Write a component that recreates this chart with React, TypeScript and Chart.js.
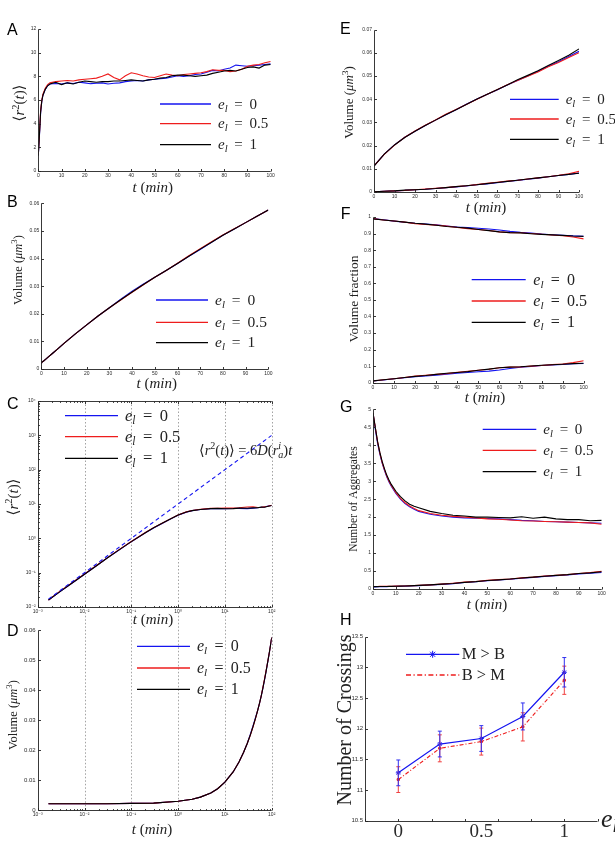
import React, { useEffect, useRef } from 'react';
import { Chart, registerables } from 'chart.js';

Chart.register(...registerables);

const SERIF = "'Liberation Serif', 'DejaVu Serif', serif";
const SANS = "'Liberation Sans', 'DejaVu Sans', Arial, sans-serif";
const BLUE = '#1414f0';
const RED = '#ee1c1c';
const BLACK = '#000000';

// ---------- data ----------
const seriesLabels = ['0', '0.5', '1'];

// A: mean squared displacement vs time (linear time axis)
const tA = [0, 0.5, 1, 1.5, 2, 3, 4, 5, 7.5, 10, 12.5, 15, 17.5, 20, 22.5, 25, 27.5, 30, 32.5, 35, 37.5, 40, 42.5, 45, 47.5, 50, 52.5, 55, 57.5, 60, 62.5, 65, 67.5, 70, 72.5, 75, 77.5, 80, 82.5, 85, 87.5, 90, 92.5, 95, 97.5, 100];
const r2A_e0 = [1.3, 3.0, 4.9, 5.9, 6.4, 6.9, 7.2, 7.35, 7.4, 7.35, 7.45, 7.4, 7.5, 7.45, 7.38, 7.42, 7.45, 7.35, 7.42, 7.45, 7.55, 7.6, 7.65, 7.6, 7.7, 7.75, 7.8, 7.85, 7.95, 8.05, 8.0, 8.05, 8.15, 8.2, 8.35, 8.5, 8.45, 8.6, 8.7, 8.95, 8.9, 8.85, 8.9, 8.95, 9.0, 9.05];
const r2A_e05 = [1.4, 3.2, 5.1, 6.0, 6.5, 7.0, 7.3, 7.45, 7.55, 7.6, 7.65, 7.6, 7.7, 7.75, 7.8, 7.85, 8.0, 8.2, 7.9, 7.7, 8.05, 8.3, 8.2, 8.05, 7.95, 7.9, 8.05, 8.2, 8.1, 8.05, 8.15, 8.2, 8.25, 8.3, 8.4, 8.55, 8.5, 8.5, 8.4, 8.45, 8.6, 8.85, 8.95, 9.0, 9.15, 9.25];
const r2A_e1 = [1.3, 3.1, 5.0, 5.9, 6.4, 6.9, 7.2, 7.35, 7.5, 7.3, 7.45, 7.35, 7.5, 7.6, 7.55, 7.5, 7.55, 7.55, 7.6, 7.6, 7.65, 7.7, 7.65, 7.6, 7.7, 7.75, 7.85, 7.9, 8.05, 8.1, 8.1, 8.05, 8.0, 8.05, 8.1, 8.25, 8.35, 8.45, 8.5, 8.45, 8.6, 8.75, 8.8, 8.7, 8.95, 9.0];

// B and D: aggregate volume vs time
const tV = [0.0017, 0.005, 0.01, 0.03, 0.1, 0.3, 1, 2, 3, 5, 7, 10, 15, 20, 25, 30, 35, 40, 45, 50, 55, 60, 65, 70, 75, 80, 85, 90, 95, 100];
const volV_e0 = [0.0021, 0.0021, 0.0021, 0.0021, 0.0022, 0.0023, 0.0029, 0.0036, 0.0043, 0.0057, 0.0071, 0.0093, 0.0127, 0.016, 0.0192, 0.0222, 0.0253, 0.0282, 0.0308, 0.0332, 0.0357, 0.0382, 0.0408, 0.0433, 0.0459, 0.0484, 0.0507, 0.053, 0.0553, 0.0576];
const volV_e05 = [0.0021, 0.0021, 0.0021, 0.0021, 0.0022, 0.0023, 0.0029, 0.0036, 0.0043, 0.0057, 0.0071, 0.0093, 0.0127, 0.016, 0.0192, 0.0222, 0.025, 0.0278, 0.0305, 0.0332, 0.0357, 0.0383, 0.041, 0.0436, 0.0461, 0.0485, 0.0508, 0.053, 0.0553, 0.0576];
const volV_e1 = [0.0021, 0.0021, 0.0021, 0.0021, 0.0022, 0.0023, 0.0029, 0.0036, 0.0043, 0.0057, 0.0071, 0.0093, 0.0127, 0.016, 0.0192, 0.0222, 0.0251, 0.0279, 0.0306, 0.0332, 0.0357, 0.0382, 0.0408, 0.0434, 0.0459, 0.0484, 0.0507, 0.053, 0.0553, 0.0576];

// C: mean squared displacement vs time (log-log)
const tC = [0.0017, 0.003, 0.005, 0.01, 0.02, 0.03, 0.05, 0.1, 0.2, 0.3, 0.5, 0.7, 1, 1.5, 2, 3, 5, 7, 10, 15, 20, 30, 40, 50, 60, 70, 80, 90, 100];
const r2C_e0 = [0.016, 0.028, 0.046, 0.09, 0.175, 0.26, 0.42, 0.8, 1.45, 2.0, 2.9, 3.7, 4.7, 5.8, 6.4, 6.9, 7.3, 7.4, 7.35, 7.4, 7.45, 7.35, 7.6, 7.75, 8.05, 8.2, 8.6, 8.85, 9.05];
const r2C_e05 = [0.016, 0.029, 0.047, 0.091, 0.178, 0.265, 0.43, 0.81, 1.47, 2.05, 2.95, 3.75, 4.8, 5.9, 6.5, 7.0, 7.45, 7.55, 7.6, 7.6, 7.75, 8.2, 8.3, 7.9, 8.05, 8.3, 8.5, 8.85, 9.25];
const r2C_e1 = [0.016, 0.028, 0.046, 0.09, 0.176, 0.262, 0.425, 0.8, 1.46, 2.02, 2.92, 3.72, 4.75, 5.85, 6.4, 6.9, 7.35, 7.45, 7.3, 7.35, 7.6, 7.55, 7.7, 7.75, 8.1, 8.05, 8.45, 8.75, 9.0];
const tTheory = [0.0017, 100];
const r2Theory = [0.017, 1000];

// E, F: 5-minute samples
const t5 = [0, 5, 10, 15, 20, 25, 30, 35, 40, 45, 50, 55, 60, 65, 70, 75, 80, 85, 90, 95, 100];
const volHi_e0 = [0.0113, 0.0163, 0.0203, 0.0236, 0.0262, 0.0287, 0.031, 0.0333, 0.0355, 0.0378, 0.04, 0.042, 0.044, 0.0461, 0.0481, 0.05, 0.0521, 0.0542, 0.0562, 0.0584, 0.0607];
const volHi_e05 = [0.0113, 0.0162, 0.0202, 0.0236, 0.0263, 0.0288, 0.0311, 0.0335, 0.0356, 0.0377, 0.0399, 0.042, 0.0441, 0.0463, 0.0481, 0.0499, 0.0518, 0.054, 0.0559, 0.058, 0.0601];
const volHi_e1 = [0.0112, 0.0163, 0.0203, 0.0235, 0.0262, 0.0287, 0.031, 0.0333, 0.0355, 0.0377, 0.04, 0.0421, 0.0441, 0.0462, 0.0484, 0.0503, 0.0523, 0.0546, 0.0567, 0.059, 0.0617];
const volLo_e0 = [0.0001, 0.0003, 0.0005, 0.0007, 0.001, 0.0012, 0.0015, 0.0018, 0.0022, 0.0026, 0.0031, 0.0035, 0.004, 0.0045, 0.005, 0.0055, 0.006, 0.0066, 0.0071, 0.0076, 0.0082];
const volLo_e05 = [0.0001, 0.0003, 0.0005, 0.0007, 0.001, 0.0013, 0.0016, 0.0019, 0.0023, 0.0027, 0.0032, 0.0037, 0.0042, 0.0047, 0.0051, 0.0056, 0.0061, 0.0066, 0.0072, 0.0079, 0.0089];
const volLo_e1 = [0.0001, 0.0003, 0.0005, 0.0008, 0.001, 0.0012, 0.0015, 0.0019, 0.0023, 0.0027, 0.0031, 0.0036, 0.0041, 0.0046, 0.0051, 0.0056, 0.0061, 0.0066, 0.0071, 0.0076, 0.0081];

const fracHi_e0 = [0.99, 0.983, 0.975, 0.968, 0.962, 0.958, 0.953, 0.946, 0.94, 0.937, 0.932, 0.928, 0.922, 0.913, 0.907, 0.903, 0.897, 0.893, 0.89, 0.886, 0.884];
const fracHi_e05 = [0.99, 0.982, 0.976, 0.969, 0.96, 0.955, 0.951, 0.945, 0.937, 0.93, 0.925, 0.919, 0.91, 0.906, 0.905, 0.9, 0.896, 0.891, 0.887, 0.879, 0.868];
const fracHi_e1 = [0.989, 0.982, 0.976, 0.969, 0.962, 0.957, 0.95, 0.943, 0.938, 0.933, 0.925, 0.918, 0.91, 0.906, 0.904, 0.899, 0.895, 0.892, 0.889, 0.885, 0.883];
const fracLo_e0 = [0.01, 0.016, 0.024, 0.03, 0.036, 0.04, 0.046, 0.052, 0.058, 0.062, 0.066, 0.07, 0.077, 0.086, 0.093, 0.098, 0.104, 0.107, 0.11, 0.114, 0.116];
const fracLo_e05 = [0.01, 0.018, 0.024, 0.031, 0.04, 0.045, 0.05, 0.055, 0.063, 0.069, 0.075, 0.081, 0.09, 0.094, 0.095, 0.1, 0.104, 0.109, 0.113, 0.121, 0.132];
const fracLo_e1 = [0.011, 0.018, 0.024, 0.031, 0.038, 0.043, 0.05, 0.057, 0.062, 0.067, 0.075, 0.082, 0.09, 0.094, 0.096, 0.101, 0.105, 0.108, 0.111, 0.115, 0.117];

// G: number of aggregates
const tG = [0, 1, 2, 3, 4, 5, 6, 7, 8, 10, 12, 14, 16, 18, 20, 25, 30, 35, 40, 45, 50, 55, 60, 65, 70, 75, 80, 85, 90, 95, 100];
const aggHi_e0 = [4.9, 4.45, 4.05, 3.75, 3.5, 3.3, 3.12, 2.98, 2.86, 2.66, 2.5, 2.38, 2.29, 2.22, 2.16, 2.08, 2.03, 2.0, 1.98, 1.97, 1.96, 1.95, 1.93, 1.91, 1.9, 1.88, 1.87, 1.86, 1.85, 1.84, 1.83];
const aggHi_e05 = [4.9, 4.5, 4.1, 3.78, 3.52, 3.32, 3.14, 3.0, 2.88, 2.68, 2.52, 2.4, 2.31, 2.24, 2.18, 2.1, 2.05, 2.02, 2.0, 1.98, 1.95, 1.94, 1.92, 1.9, 1.89, 1.88, 1.87, 1.86, 1.85, 1.84, 1.8];
const aggHi_e1 = [4.9, 4.5, 4.1, 3.8, 3.55, 3.35, 3.17, 3.03, 2.91, 2.72, 2.57, 2.45, 2.36, 2.3, 2.26, 2.16, 2.1, 2.05, 2.03, 2.0, 2.0, 1.99, 1.98, 2.01, 1.97, 2.0, 1.95, 1.93, 1.93, 1.9, 1.91];
const aggLo_e0 = [0.06, 0.06, 0.062, 0.064, 0.065, 0.066, 0.067, 0.068, 0.07, 0.072, 0.075, 0.08, 0.085, 0.09, 0.095, 0.11, 0.13, 0.15, 0.18, 0.2, 0.23, 0.25, 0.27, 0.3, 0.32, 0.35, 0.37, 0.39, 0.42, 0.44, 0.46];
const aggLo_e05 = [0.07, 0.07, 0.07, 0.072, 0.073, 0.074, 0.075, 0.076, 0.077, 0.08, 0.082, 0.085, 0.09, 0.095, 0.1, 0.115, 0.135, 0.16, 0.19, 0.21, 0.24, 0.26, 0.28, 0.31, 0.33, 0.36, 0.38, 0.4, 0.43, 0.46, 0.49];
const aggLo_e1 = [0.065, 0.065, 0.066, 0.068, 0.07, 0.07, 0.071, 0.072, 0.074, 0.077, 0.08, 0.083, 0.088, 0.093, 0.1, 0.115, 0.135, 0.155, 0.185, 0.205, 0.235, 0.255, 0.28, 0.305, 0.33, 0.355, 0.38, 0.4, 0.43, 0.45, 0.48];

// H: crossings vs e_l
const eL = [0, 0.25, 0.5, 0.75, 1];
const crossMB = [11.28, 11.75, 11.84, 12.2, 12.92];
const crossMB_err = [0.21, 0.21, 0.21, 0.22, 0.24];
const crossBM = [11.17, 11.68, 11.79, 12.03, 12.79];
const crossBM_err = [0.21, 0.22, 0.22, 0.23, 0.23];

// tick values
const ticks0to100 = [0, 10, 20, 30, 40, 50, 60, 70, 80, 90, 100];
const decadesT = [0.001, 0.01, 0.1, 1, 10, 100];
const decadesR2 = [0.01, 0.1, 1, 10, 100, 1000, 10000];
const ticksVol06 = [0, 0.01, 0.02, 0.03, 0.04, 0.05, 0.06];
const ticksVol07 = [0, 0.01, 0.02, 0.03, 0.04, 0.05, 0.06, 0.07];
const ticksFrac = [0, 0.1, 0.2, 0.3, 0.4, 0.5, 0.6, 0.7, 0.8, 0.9, 1];
const ticksAgg = [0, 0.5, 1, 1.5, 2, 2.5, 3, 3.5, 4, 4.5, 5];
const ticksCross = [10.5, 11, 11.5, 12, 12.5, 13, 13.5];
const ticksEl = [0, 0.5, 1];
const marksEl = [-0.2, 0, 0.2, 0.4, 0.6, 0.8, 1, 1.2];

// ---------- helpers ----------
const SUP = '⁻⁰¹²³⁴⁵⁶⁷⁸⁹';
const toSup = (n: number) => String(n).split('').map((c) => SUP['-0123456789'.indexOf(c)]).join('');
const fmt = (v: number) => String(parseFloat(v.toFixed(4)));
const fmtPow = (v: number) => '10' + toSup(Math.round(Math.log10(v)));
const logMinor = (lo: number, hi: number) => {
  const out: number[] = [];
  for (let e = lo; e < hi; e++) for (let k = 2; k <= 9; k++) out.push(k * Math.pow(10, e));
  return out;
};

type Run = { t: string; it?: boolean; sub?: boolean; sup?: boolean; stack?: boolean };

function drawRuns(ctx: CanvasRenderingContext2D, runs: Run[], x: number, y: number, size: number, align = 'left', color = '#111') {
  const fontOf = (r: Run) => `${r.it ? 'italic ' : ''}${r.sub || r.sup ? (size * 0.7).toFixed(1) : size}px ${SERIF}`;
  const widths = runs.map((r) => {
    ctx.font = fontOf(r);
    return ctx.measureText(r.t).width;
  });
  const pos: number[] = [];
  let cx = 0;
  let prevStart = 0;
  let prevW = 0;
  runs.forEach((r, i) => {
    const w = widths[i];
    if (r.stack) {
      pos.push(prevStart);
      prevW = Math.max(prevW, w);
      cx = prevStart + prevW;
    } else {
      pos.push(cx);
      prevStart = cx;
      prevW = w;
      cx += w;
    }
  });
  const x0 = align === 'center' ? x - cx / 2 : x;
  ctx.fillStyle = color;
  ctx.textAlign = 'left';
  ctx.textBaseline = 'alphabetic';
  runs.forEach((r, i) => {
    ctx.font = fontOf(r);
    const dy = r.sub ? size * 0.2 : r.sup ? -size * 0.38 : 0;
    ctx.fillText(r.t, x0 + pos[i], y + dy);
  });
}

const runsTmin: Run[] = [{ t: 't', it: true }, { t: ' (' }, { t: 'min', it: true }, { t: ')' }];
const runsR2: Run[] = [{ t: '⟨' }, { t: 'r', it: true }, { t: '2', sup: true }, { t: '(' }, { t: 't', it: true }, { t: ')' }, { t: '⟩' }];
const runsVol: Run[] = [{ t: 'Volume (' }, { t: 'μm', it: true }, { t: '3', sup: true }, { t: ')' }];
const runsTheory: Run[] = [
  { t: '⟨' }, { t: 'r', it: true }, { t: '2', sup: true }, { t: '(' }, { t: 't', it: true }, { t: ')' }, { t: '⟩ = 6' },
  { t: 'D', it: true }, { t: '(' }, { t: 'r', it: true }, { t: 'a', it: true, sub: true }, { t: 'i', it: true, sup: true, stack: true },
  { t: ')' }, { t: 't', it: true },
];
const elRows = seriesLabels.map((lab, i) => ({
  color: [BLUE, RED, BLACK][i],
  runs: [{ t: 'e', it: true }, { t: 'l', it: true, sub: true }, { t: ' \u2009=\u2009 ' + lab }] as Run[],
}));

const line = (xs: number[], ys: number[], color: string, order: number, extra: any = {}) => ({
  data: xs.map((x, i) => ({ x, y: ys[i] })),
  showLine: true,
  borderColor: color,
  backgroundColor: color,
  borderWidth: 1.1,
  pointRadius: 0,
  pointHoverRadius: 0,
  tension: 0,
  fill: false,
  order,
  ...extra,
});

type Axis = {
  type: 'linear' | 'logarithmic';
  min: number;
  max: number;
  ticks: number[];
  font: number;
  family?: string;
  labels?: (v: number) => string;
  marks?: number[];
  minor?: number[];
  pad?: number;
};

type Spec = {
  box: { left: number; top: number; w: number; h: number };
  area: { x0: number; y0: number; x1: number; y1: number };
  x: Axis;
  y: Axis;
  datasets: any[];
  texts: { runs: Run[]; x: number; y: number; size: number; rot?: boolean; base?: boolean }[];
  legend?: { x0: number; x1: number; textX: number; ys: number[]; size: number; rows: { color: string; runs: Run[]; dash?: number[]; star?: boolean }[] };
  letter: { ch: string; x: number; y: number };
  vGrid?: number[];
  gridTop?: number;
  boxTop?: boolean;
  errors?: { xs: number[]; ys: number[]; err: number[]; color: string }[];
};

function axisOptions(a: Axis, horizontal: boolean, size: number) {
  return {
    type: a.type,
    min: a.min,
    max: a.max,
    afterBuildTicks: (s: any) => {
      s.ticks = a.ticks.map((v) => ({ value: v }));
    },
    afterFit: (s: any) => {
      if (horizontal) s.height = size;
      else s.width = size;
    },
    grid: { display: false, drawTicks: false },
    border: { display: false },
    ticks: {
      autoSkip: false,
      maxRotation: 0,
      minRotation: 0,
      padding: a.pad ?? 2,
      color: '#2a2a2a',
      font: { family: a.family ?? SANS, size: a.font },
      callback: (v: any) => (a.labels ? a.labels(Number(v)) : fmt(Number(v))),
    },
  };
}

function framePlugin(spec: Spec) {
  return {
    id: 'frame',
    beforeDatasetsDraw(chart: any) {
      const { ctx, chartArea: a, scales } = chart;
      if (!spec.vGrid) return;
      ctx.save();
      ctx.strokeStyle = '#8c8c8c';
      ctx.lineWidth = 0.8;
      ctx.setLineDash([1.5, 2]);
      for (const v of spec.vGrid) {
        const px = Math.round(scales.x.getPixelForValue(v)) + 0.5;
        ctx.beginPath();
        ctx.moveTo(px, a.top - (spec.gridTop ?? 0));
        ctx.lineTo(px, a.bottom);
        ctx.stroke();
      }
      ctx.restore();
    },
    afterDatasetsDraw(chart: any) {
      const { ctx, chartArea: a, scales } = chart;
      const L = Math.round(a.left) + 0.5;
      const B = Math.round(a.bottom) + 0.5;
      const T = Math.round(a.top) + 0.5;
      ctx.save();
      ctx.strokeStyle = '#222';
      ctx.lineWidth = 0.9;
      ctx.setLineDash([]);
      ctx.beginPath();
      ctx.moveTo(L, T);
      ctx.lineTo(L, B);
      ctx.lineTo(a.right, B);
      if (spec.boxTop) {
        ctx.moveTo(L, T);
        ctx.lineTo(a.right, T);
      }
      const xMarks = spec.x.marks ?? spec.x.ticks;
      for (const v of xMarks) {
        const px = Math.round(scales.x.getPixelForValue(v)) + 0.5;
        ctx.moveTo(px, B);
        ctx.lineTo(px, B - 2.5);
        if (spec.boxTop) {
          ctx.moveTo(px, T);
          ctx.lineTo(px, T + 2.5);
        }
      }
      for (const v of spec.x.minor ?? []) {
        const px = Math.round(scales.x.getPixelForValue(v)) + 0.5;
        ctx.moveTo(px, B);
        ctx.lineTo(px, B - 1.4);
        if (spec.boxTop) {
          ctx.moveTo(px, T);
          ctx.lineTo(px, T + 1.4);
        }
      }
      const yMarks = spec.y.marks ?? spec.y.ticks;
      for (const v of yMarks) {
        const py = Math.round(scales.y.getPixelForValue(v)) + 0.5;
        ctx.moveTo(L, py);
        ctx.lineTo(L + 2.5, py);
      }
      for (const v of spec.y.minor ?? []) {
        const py = Math.round(scales.y.getPixelForValue(v)) + 0.5;
        ctx.moveTo(L, py);
        ctx.lineTo(L + 1.4, py);
      }
      ctx.stroke();

      // error bars
      for (const eb of spec.errors ?? []) {
        ctx.strokeStyle = eb.color;
        ctx.lineWidth = 1;
        ctx.beginPath();
        eb.xs.forEach((xv, i) => {
          const px = scales.x.getPixelForValue(xv);
          const top = scales.y.getPixelForValue(eb.ys[i] + eb.err[i]);
          const bot = scales.y.getPixelForValue(eb.ys[i] - eb.err[i]);
          ctx.moveTo(px, top);
          ctx.lineTo(px, bot);
          ctx.moveTo(px - 2, top);
          ctx.lineTo(px + 2, top);
          ctx.moveTo(px - 2, bot);
          ctx.lineTo(px + 2, bot);
        });
        ctx.stroke();
      }
      ctx.restore();
    },
  };
}

function drawStar(ctx: CanvasRenderingContext2D, x: number, y: number, r: number) {
  ctx.beginPath();
  ctx.moveTo(x - r, y);
  ctx.lineTo(x + r, y);
  ctx.moveTo(x, y - r);
  ctx.lineTo(x, y + r);
  const d = r * 0.72;
  ctx.moveTo(x - d, y - d);
  ctx.lineTo(x + d, y + d);
  ctx.moveTo(x - d, y + d);
  ctx.lineTo(x + d, y - d);
  ctx.stroke();
}

function overlayPlugin(spec: Spec) {
  return {
    id: 'overlay',
    afterDraw(chart: any) {
      const ctx: CanvasRenderingContext2D = chart.ctx;
      const ox = spec.box.left;
      const oy = spec.box.top;
      ctx.save();
      // axis titles and annotations
      for (const t of spec.texts) {
        if (t.rot) {
          ctx.save();
          ctx.translate(t.x - ox, t.y - oy);
          ctx.rotate(-Math.PI / 2);
          drawRuns(ctx, t.runs, 0, t.size * 0.33, t.size, 'center', '#222');
          ctx.restore();
        } else if (t.base) {
          drawRuns(ctx, t.runs, t.x - ox, t.y - oy, t.size, 'left', '#222');
        } else {
          drawRuns(ctx, t.runs, t.x - ox, t.y - oy + t.size * 0.33, t.size, 'center', '#222');
        }
      }
      // legend
      const lg = spec.legend;
      if (lg) {
        lg.rows.forEach((row, i) => {
          const y = lg.ys[i] - oy;
          ctx.strokeStyle = row.color;
          ctx.lineWidth = 1.3;
          ctx.setLineDash(row.dash ?? []);
          ctx.beginPath();
          ctx.moveTo(lg.x0 - ox, y);
          ctx.lineTo(lg.x1 - ox, y);
          ctx.stroke();
          ctx.setLineDash([]);
          if (row.star) {
            ctx.lineWidth = 1;
            drawStar(ctx, (lg.x0 + lg.x1) / 2 - ox, y, 3.5);
          }
          drawRuns(ctx, row.runs, lg.textX - ox, y + lg.size * 0.3, lg.size, 'left', '#222');
        });
      }
      // panel letter
      ctx.fillStyle = '#000';
      ctx.font = `16px ${SANS}`;
      ctx.textAlign = 'left';
      ctx.textBaseline = 'alphabetic';
      ctx.fillText(spec.letter.ch, spec.letter.x - ox, spec.letter.y - oy);
      ctx.restore();
    },
  };
}

function buildConfig(spec: Spec): any {
  const { box, area } = spec;
  return {
    type: 'scatter',
    data: { datasets: spec.datasets },
    options: {
      animation: false,
      responsive: false,
      devicePixelRatio: 1,
      events: [],
      layout: {
        padding: {
          left: 0,
          top: area.y0 - box.top,
          right: box.left + box.w - area.x1,
          bottom: 0,
        },
      },
      plugins: { legend: { display: false }, tooltip: { enabled: false }, title: { display: false } },
      scales: {
        x: axisOptions(spec.x, true, box.top + box.h - area.y1),
        y: axisOptions(spec.y, false, area.x0 - box.left),
      },
    },
    plugins: [framePlugin(spec), overlayPlugin(spec)],
  };
}

// ---------- panels ----------
const lin100: Axis = { type: 'linear', min: 0, max: 100, ticks: ticks0to100, font: 5 };
const logT: Axis = { type: 'logarithmic', min: 0.001, max: 100, ticks: decadesT, font: 5, labels: fmtPow, minor: logMinor(-3, 2) };

const panelA: Spec = {
  box: { left: 0, top: 15, w: 300, h: 185 },
  area: { x0: 38.3, y0: 29, x1: 270.7, y1: 171 },
  x: lin100,
  y: { type: 'linear', min: 0, max: 12, ticks: [0, 2, 4, 6, 8, 10, 12], font: 5 },
  datasets: [line(tA, r2A_e0, BLUE, 2), line(tA, r2A_e05, RED, 1), line(tA, r2A_e1, BLACK, 0)],
  texts: [
    { runs: runsTmin, x: 152.7, y: 187.5, size: 15 },
    { runs: runsR2, x: 19.5, y: 103, size: 15, rot: true },
  ],
  legend: { x0: 160, x1: 211, textX: 218, ys: [104, 123.7, 144.7], size: 15, rows: elRows },
  letter: { ch: 'A', x: 7, y: 35 },
};

const panelB: Spec = {
  box: { left: 0, top: 192, w: 300, h: 200 },
  area: { x0: 41.3, y0: 203.3, x1: 268.3, y1: 369 },
  x: lin100,
  y: { type: 'linear', min: 0, max: 0.06, ticks: ticksVol06, font: 5 },
  datasets: [line(tV, volV_e0, BLUE, 2), line(tV, volV_e05, RED, 1), line(tV, volV_e1, BLACK, 0)],
  texts: [
    { runs: runsTmin, x: 156.7, y: 383, size: 15 },
    { runs: runsVol, x: 18, y: 270, size: 12.5, rot: true },
  ],
  legend: { x0: 156, x1: 208, textX: 215, ys: [300, 322.3, 342.7], size: 15.5, rows: elRows },
  letter: { ch: 'B', x: 7, y: 207 },
};

const panelC: Spec = {
  box: { left: 0, top: 393, w: 300, h: 235 },
  area: { x0: 37.7, y0: 401, x1: 271.7, y1: 607 },
  x: logT,
  y: { type: 'logarithmic', min: 0.01, max: 10000, ticks: decadesR2, font: 5, labels: fmtPow, minor: logMinor(-2, 4) },
  datasets: [
    line(tTheory, r2Theory, BLUE, -1, { borderDash: [4, 3], borderWidth: 1.1 }),
    line(tC, r2C_e0, BLUE, 2),
    line(tC, r2C_e05, RED, 1),
    line(tC, r2C_e1, BLACK, 0),
  ],
  texts: [
    { runs: runsTmin, x: 153, y: 619, size: 15 },
    { runs: runsR2, x: 13, y: 497, size: 15, rot: true },
    { runs: runsTheory, x: 199, y: 455, size: 14.5, base: true },
  ],
  legend: { x0: 65, x1: 118, textX: 125, ys: [415.7, 436.7, 458.3], size: 16.5, rows: elRows },
  letter: { ch: 'C', x: 7, y: 408.5 },
  vGrid: [0.01, 0.1, 1, 10, 100],
  boxTop: true,
};

const panelD: Spec = {
  box: { left: 0, top: 606, w: 300, h: 236 },
  area: { x0: 37.7, y0: 630.3, x1: 271.7, y1: 810 },
  x: logT,
  y: { type: 'linear', min: 0, max: 0.06, ticks: ticksVol06, font: 6 },
  datasets: [line(tV, volV_e0, BLUE, 2), line(tV, volV_e05, RED, 1), line(tV, volV_e1, BLACK, 0)],
  texts: [
    { runs: runsTmin, x: 152, y: 829, size: 15 },
    { runs: runsVol, x: 12.5, y: 715, size: 12.5, rot: true },
  ],
  legend: { x0: 137, x1: 190, textX: 197, ys: [646.3, 668, 689.3], size: 16, rows: elRows },
  letter: { ch: 'D', x: 7, y: 636 },
  vGrid: [0.01, 0.1, 1, 10, 100],
  gridTop: 18,
};

const panelE: Spec = {
  box: { left: 300, top: 15, w: 315, h: 200 },
  area: { x0: 374, y0: 29.7, x1: 579, y1: 192 },
  x: lin100,
  y: { type: 'linear', min: 0, max: 0.07, ticks: ticksVol07, font: 5 },
  datasets: [
    line(t5, volHi_e0, BLUE, 2), line(t5, volHi_e05, RED, 1), line(t5, volHi_e1, BLACK, 0),
    line(t5, volLo_e0, BLUE, 2), line(t5, volLo_e05, RED, 1), line(t5, volLo_e1, BLACK, 0),
  ],
  texts: [
    { runs: runsTmin, x: 486, y: 206.7, size: 15 },
    { runs: runsVol, x: 349, y: 102.5, size: 13, rot: true },
  ],
  legend: { x0: 510, x1: 558.7, textX: 565.7, ys: [99.3, 119, 139.3], size: 15, rows: elRows },
  letter: { ch: 'E', x: 340, y: 33.5 },
};

const panelF: Spec = {
  box: { left: 300, top: 200, w: 315, h: 206 },
  area: { x0: 373, y0: 217, x1: 583.7, y1: 382.7 },
  x: lin100,
  y: { type: 'linear', min: 0, max: 1, ticks: ticksFrac, font: 5 },
  datasets: [
    line(t5, fracHi_e0, BLUE, 2), line(t5, fracHi_e05, RED, 1), line(t5, fracHi_e1, BLACK, 0),
    line(t5, fracLo_e0, BLUE, 2), line(t5, fracLo_e05, RED, 1), line(t5, fracLo_e1, BLACK, 0),
  ],
  texts: [
    { runs: runsTmin, x: 485, y: 397, size: 15 },
    { runs: [{ t: 'Volume fraction' }], x: 354, y: 299, size: 13.5, rot: true },
  ],
  legend: { x0: 471.7, x1: 525.7, textX: 533.3, ys: [279.7, 301, 322.3], size: 16, rows: elRows },
  letter: { ch: 'F', x: 340.7, y: 218.5 },
};

const panelG: Spec = {
  box: { left: 300, top: 400, w: 315, h: 213 },
  area: { x0: 373, y0: 409.3, x1: 601.7, y1: 589 },
  x: lin100,
  y: { type: 'linear', min: 0, max: 5, ticks: ticksAgg, font: 5 },
  datasets: [
    line(tG, aggHi_e0, BLUE, 2), line(tG, aggHi_e05, RED, 1), line(tG, aggHi_e1, BLACK, 0),
    line(tG, aggLo_e0, BLUE, 2), line(tG, aggLo_e05, RED, 1), line(tG, aggLo_e1, BLACK, 0),
  ],
  texts: [
    { runs: runsTmin, x: 487, y: 604, size: 15 },
    { runs: [{ t: 'Number of Aggregates' }], x: 353, y: 499, size: 11.5, rot: true },
  ],
  legend: { x0: 482.7, x1: 536.3, textX: 543.3, ys: [429.3, 450.3, 471.7], size: 15, rows: elRows },
  letter: { ch: 'G', x: 340, y: 412 },
};

const panelH: Spec = {
  box: { left: 300, top: 613, w: 315, h: 229 },
  area: { x0: 365.1, y0: 636.7, x1: 597.5, y1: 820.7 },
  x: { type: 'linear', min: -0.2, max: 1.2, ticks: ticksEl, marks: marksEl, font: 19, family: SERIF, pad: 0 },
  y: { type: 'linear', min: 10.5, max: 13.5, ticks: ticksCross, font: 6 },
  datasets: [
    line(eL, crossMB, BLUE, 0, { borderWidth: 1.2, pointRadius: 2.5, pointStyle: 'star', pointBorderWidth: 1 }),
    line(eL, crossBM, RED, 1, { borderWidth: 1.1, borderDash: [4, 2, 1, 2], pointRadius: 1.2, pointStyle: 'circle' }),
  ],
  texts: [
    { runs: [{ t: 'Number of Crossings' }], x: 344, y: 720, size: 20, rot: true },
    { runs: [{ t: 'e', it: true }, { t: 'l', it: true, sub: true }], x: 601, y: 827, size: 26, base: true },
  ],
  legend: {
    x0: 406,
    x1: 459.3,
    textX: 461.7,
    ys: [654.3, 675],
    size: 16.5,
    rows: [
      { color: BLUE, runs: [{ t: 'M > B' }], star: true },
      { color: RED, runs: [{ t: 'B > M' }], dash: [5, 2.5, 1.2, 2.5] },
    ],
  },
  letter: { ch: 'H', x: 340, y: 624.5 },
  errors: [
    { xs: eL, ys: crossBM, err: crossBM_err, color: '#f04040' },
    { xs: eL, ys: crossMB, err: crossMB_err, color: '#3030f0' },
  ],
};

const panels: Spec[] = [panelA, panelB, panelC, panelD, panelE, panelF, panelG, panelH];

function Panel({ spec }: { spec: Spec }) {
  const ref = useRef<HTMLCanvasElement>(null);
  useEffect(() => {
    const canvas = ref.current;
    if (!canvas) return;
    const chart = new Chart(canvas, buildConfig(spec));
    return () => chart.destroy();
  }, [spec]);
  const { box } = spec;
  return (
    <canvas
      ref={ref}
      width={box.w}
      height={box.h}
      style={{ position: 'absolute', left: box.left, top: box.top, width: box.w, height: box.h }}
    />
  );
}

export default function App() {
  return (
    <div style={{ position: 'absolute', left: 0, top: 0, width: 615, height: 842, background: '#fff', overflow: 'hidden' }}>
      {panels.map((p, i) => (
        <Panel key={i} spec={p} />
      ))}
    </div>
  );
}
